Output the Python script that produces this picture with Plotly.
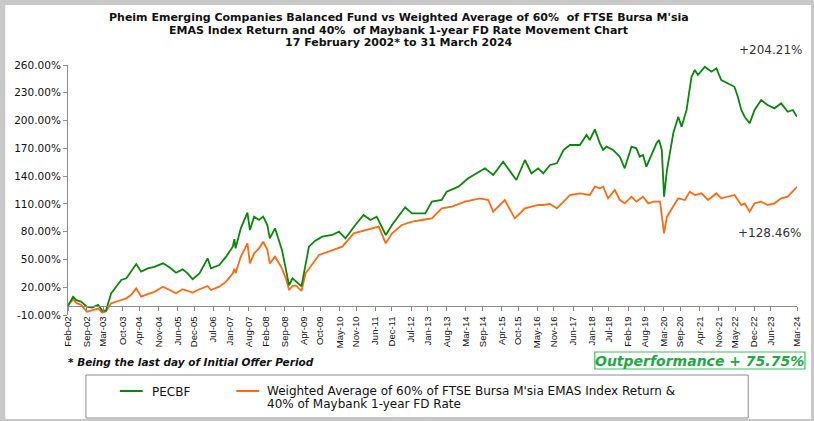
import plotly.graph_objects as go

# ---------------- data ----------------
pecbf_dates = [
    "2002-02-17", "2002-04-14", "2002-05-20", "2002-07-10", "2002-09-15", "2002-11-10",
    "2003-01-17", "2003-03-05", "2003-04-15", "2003-06-10", "2003-08-01", "2003-09-30",
    "2003-11-26", "2004-01-20", "2004-03-14", "2004-05-08", "2004-07-20", "2004-10-01",
    "2005-01-05", "2005-03-17", "2005-05-29", "2005-08-10", "2005-10-05", "2005-11-29",
    "2006-02-13", "2006-05-14", "2006-06-20", "2006-09-20", "2006-12-05", "2007-02-17",
    "2007-03-07", "2007-03-20", "2007-05-17", "2007-07-29", "2007-08-26", "2007-10-11",
    "2007-12-05", "2008-01-20", "2008-03-06", "2008-04-02", "2008-05-30", "2008-08-15",
    "2008-09-27", "2008-11-02", "2008-12-09", "2009-01-17", "2009-03-19", "2009-06-10",
    "2009-08-15", "2009-11-04", "2010-02-22", "2010-05-08", "2010-07-20", "2010-11-06",
    "2011-02-05", "2011-04-22", "2011-07-01", "2011-10-09", "2011-12-17", "2012-05-11",
    "2012-07-26", "2012-12-20", "2013-03-03", "2013-06-20", "2013-08-14", "2013-12-23",
    "2014-04-10", "2014-10-13", "2015-01-12", "2015-05-02", "2015-09-25", "2015-12-29",
    "2016-03-11", "2016-05-24", "2016-07-20", "2016-10-02", "2016-12-17", "2017-03-01",
    "2017-05-11", "2017-08-29", "2017-11-11", "2017-12-17", "2018-02-11", "2018-04-08",
    "2018-05-14", "2018-06-20", "2018-09-02", "2018-11-14", "2019-01-08", "2019-03-24",
    "2019-05-17", "2019-06-23", "2019-07-30", "2019-09-05", "2019-11-02", "2019-12-26",
    "2020-01-23", "2020-02-23", "2020-03-19", "2020-04-20", "2020-06-29", "2020-08-23",
    "2020-09-29", "2020-11-23", "2021-01-17", "2021-02-23", "2021-03-29", "2021-06-14",
    "2021-08-26", "2021-10-20", "2021-12-13", "2022-02-26", "2022-05-08", "2022-06-14",
    "2022-07-23", "2022-08-29", "2022-10-23", "2022-12-17", "2023-02-28", "2023-05-10",
    "2023-07-26", "2023-10-07", "2023-12-20", "2024-02-14", "2024-03-31",
]
pecbf_values = [
    0, 9.8, 6, 4.4, -1, -2,
    1, -5.4, -5, 13.4, 20, 27.8,
    29.6, 37, 45, 36.8, 40.4, 42,
    45.8, 41.5, 35.7, 39.3, 35, 28.6,
    35, 51.2, 40.4, 44, 53, 63.8,
    72, 62, 83.6, 100.5, 81.8, 96.2,
    92.6, 96.2, 87.2, 72.8, 83.6, 60.2,
    38.6, 22, 29.6, 26, 21, 63.8,
    70, 74.6, 76.4, 80, 72.8, 87.2,
    98, 92.6, 96.2, 76.4, 87.2, 106.3,
    99.8, 99.8, 112.4, 114.2, 123.2, 128.6,
    137.6, 148.4, 141.2, 155.6, 135.8, 157.4,
    143, 148.4, 143, 152, 153.8, 168.2,
    173.6, 173.6, 184.4, 179, 190.5, 175.4,
    168.2, 171.8, 168.2, 161, 148.4, 171.8,
    170, 161, 162.8, 150.2, 162.8, 175.4,
    179, 168.2, 117.8, 146.6, 186.2, 204.1,
    193.4, 211.4, 247.3, 254.6, 249.2, 258.1,
    252.7, 256.4, 243.8, 240.2, 236.5, 225.7,
    211.4, 204.1, 197, 211.4, 222.2, 216.8,
    213.2, 218.6, 209.5, 211.4, 204.21,
]

bench_dates = [
    "2002-02-17", "2002-04-14", "2002-05-20", "2002-07-10", "2002-09-15", "2002-11-10",
    "2003-01-17", "2003-03-05", "2003-04-15", "2003-06-10", "2003-08-01", "2003-09-30",
    "2003-11-26", "2004-01-20", "2004-03-14", "2004-05-08", "2004-07-20", "2004-10-01",
    "2005-01-05", "2005-03-17", "2005-05-29", "2005-08-10", "2005-10-05", "2005-11-29",
    "2006-02-13", "2006-05-14", "2006-06-20", "2006-09-20", "2006-12-05", "2007-02-17",
    "2007-03-07", "2007-03-20", "2007-05-17", "2007-07-29", "2007-08-26", "2007-10-11",
    "2007-12-05", "2008-01-20", "2008-03-06", "2008-04-02", "2008-05-30", "2008-08-15",
    "2008-09-27", "2008-11-02", "2008-12-09", "2009-01-17", "2009-03-19", "2009-05-04",
    "2009-09-29", "2010-02-22", "2010-06-14", "2010-10-19", "2011-02-24", "2011-07-23",
    "2011-10-09", "2011-12-17", "2012-04-05", "2012-07-26", "2012-11-14", "2013-03-03",
    "2013-06-20", "2013-10-11", "2014-03-06", "2014-08-19", "2014-11-18", "2015-01-12",
    "2015-05-20", "2015-09-08", "2015-12-29", "2016-05-24", "2016-07-20", "2016-10-02",
    "2016-12-17", "2017-03-01", "2017-05-11", "2017-08-29", "2017-12-17", "2018-02-11",
    "2018-04-08", "2018-05-14", "2018-07-08", "2018-09-20", "2018-11-14", "2019-01-08",
    "2019-03-24", "2019-05-17", "2019-07-30", "2019-09-26", "2019-11-20", "2020-02-03",
    "2020-03-19", "2020-04-20", "2020-06-29", "2020-08-23", "2020-11-05", "2020-12-29",
    "2021-02-23", "2021-05-08", "2021-07-20", "2021-10-20", "2021-12-13", "2022-02-26",
    "2022-05-08", "2022-07-23", "2022-08-29", "2022-10-23", "2022-12-17", "2023-02-28",
    "2023-05-10", "2023-07-26", "2023-10-07", "2023-12-20", "2024-02-14", "2024-03-31",
]
bench_values = [
    0, 7, 3, 1, -6.4, -5,
    -3, -7.5, -6, 2.6, 4, 6.2,
    8, 12, 18.8, 9.8, 12.6, 15,
    20.6, 17, 13.4, 17.8, 16.3, 14.2,
    17.8, 21.3, 17, 20.6, 26, 35,
    40, 35, 53, 67.4, 45.8, 56.6,
    62, 69.2, 60.2, 45.8, 53, 40.4,
    29.6, 17, 21.3, 22, 16, 35,
    54.8, 60.2, 63.8, 78.2, 81.8, 85.4,
    67.4, 78.2, 87.2, 90.8, 92.6, 94.4,
    105.2, 107, 112.4, 116, 114.2, 101.6,
    114.2, 94.4, 105.2, 108.8, 108.8, 109.9,
    105.2, 112.4, 119.6, 121.4, 119.6, 128.6,
    126.8, 128.6, 116, 125, 114.2, 110.6,
    117.8, 112.4, 117.8, 110.6, 112.4, 112.4,
    78.2, 96.2, 107, 116, 114.2, 123.2,
    119.6, 121.4, 114.2, 121.4, 116, 117.8,
    119.6, 108.8, 110.6, 101.6, 110.6, 112.4,
    108.8, 110.6, 116, 117.8, 123.2, 128.46,
]

tick_labels = [
    "Feb-02", "Sep-02", "Mar-03", "Oct-03", "Apr-04", "Nov-04", "Jun-05", "Dec-05",
    "Jul-06", "Jan-07", "Aug-07", "Feb-08", "Sep-08", "Apr-09", "Oct-09", "May-10",
    "Nov-10", "Jun-11", "Dec-11", "Jul-12", "Jan-13", "Aug-13", "Mar-14", "Sep-14",
    "Apr-15", "Oct-15", "May-16", "Nov-16", "Jun-17", "Jan-18", "Jul-18", "Feb-19",
    "Aug-19", "Mar-20", "Sep-20", "Apr-21", "Nov-21", "May-22", "Dec-22", "Jun-23",
    "Mar-24",
]
tick_dates = [
    "2002-02-17", "2002-09-15", "2003-03-15", "2003-10-15", "2004-04-15", "2004-11-15",
    "2005-06-15", "2005-12-15", "2006-07-15", "2007-01-15", "2007-08-15", "2008-02-15",
    "2008-09-15", "2009-04-15", "2009-10-15", "2010-05-15", "2010-11-15", "2011-06-15",
    "2011-12-15", "2012-07-15", "2013-01-15", "2013-08-15", "2014-03-15", "2014-09-15",
    "2015-04-15", "2015-10-15", "2016-05-15", "2016-11-15", "2017-06-15", "2018-01-15",
    "2018-07-15", "2019-02-15", "2019-08-15", "2020-03-15", "2020-09-15", "2021-04-15",
    "2021-11-15", "2022-05-15", "2022-12-15", "2023-06-15", "2024-03-31",
]
y_ticks = [-10, 20, 50, 80, 110, 140, 170, 200, 230, 260]
y_tick_text = [f"{v:.2f}%" for v in y_ticks]

pecbf_name = "PECBF"
bench_name = ("Weighted Average of 60% of FTSE Bursa M'sia EMAS Index Return & "
              "40% of Maybank 1-year FD Rate")
title_lines = [
    "Pheim Emerging Companies Balanced Fund vs Weighted Average of 60%  of FTSE Bursa M'sia",
    "EMAS Index Return and 40%  of Maybank 1-year FD Rate Movement Chart",
    "17 February 2002* to 31 March 2024",
]
pecbf_end_label = "+204.21%"
bench_end_label = "+128.46%"
footnote = "* Being the last day of Initial Offer Period"
outperf_label = "Outperformance + 75.75%"

# ---------------- figure ----------------
W, H = 814, 421
L, R, T, B = 68, 14, 65, 106
PW, PH = W - L - R, H - T - B


def px(xp):
    return (xp - L) / PW


def py(yp):
    return (H - B - yp) / PH


FONT = "DejaVu Sans"
GREEN = "#0a870a"
ORANGE = "#ff6a10"
AXIS = "#8c8c8c"

fig = go.Figure()
fig.add_trace(go.Scatter(x=bench_dates, y=bench_values, mode="lines", name=bench_name,
                         line=dict(color=ORANGE, width=1.8), showlegend=False))
fig.add_trace(go.Scatter(x=pecbf_dates, y=pecbf_values, mode="lines", name=pecbf_name,
                         line=dict(color=GREEN, width=1.8), showlegend=False))

ymin, ymax = -10, 260
fig.update_layout(
    width=W, height=H,
    margin=dict(l=L, r=R, t=T, b=B, pad=0),
    paper_bgcolor="#c8c8c8",
    plot_bgcolor="white",
    font=dict(family=FONT, color="#111"),
    xaxis=dict(
        type="date", range=["2002-02-17", "2024-03-31"],
        anchor="free", position=(0 - ymin) / (ymax - ymin),
        showline=True, linecolor=AXIS, linewidth=1,
        ticks="outside", ticklen=4, tickcolor=AXIS,
        tickvals=tick_dates, ticktext=tick_labels, tickangle=-90,
        tickfont=dict(size=9.5, family="Liberation Sans Narrow, Liberation Sans", color="#111"),
        ticklabelstandoff=2,
        showgrid=False, zeroline=False, fixedrange=True,
    ),
    yaxis=dict(
        range=[ymin, ymax], tickvals=y_ticks, ticktext=y_tick_text,
        showline=True, linecolor=AXIS, linewidth=1,
        ticks="outside", ticklen=4, tickcolor=AXIS,
        tickfont=dict(size=10.5, family=FONT, color="#111"),
        showgrid=False, zeroline=False, fixedrange=True,
    ),
)

shapes = [
    # white chart area inside grey frame
    dict(type="rect", xref="paper", yref="paper", x0=px(5), x1=px(W), y0=py(419), y1=py(5),
         fillcolor="white", line=dict(width=0), layer="below"),
    # legend box
    dict(type="rect", xref="paper", yref="paper", x0=px(86), x1=px(751), y0=py(418), y1=py(375),
         fillcolor="rgba(0,0,0,0)", line=dict(color="#8a8a8a", width=1)),
    # legend samples
    dict(type="line", xref="paper", yref="paper", x0=px(120), x1=px(143), y0=py(391), y1=py(391),
         line=dict(color=GREEN, width=2)),
    dict(type="line", xref="paper", yref="paper", x0=px(237), x1=px(260), y0=py(391), y1=py(391),
         line=dict(color=ORANGE, width=2)),
    # outperformance box
    dict(type="rect", xref="paper", yref="paper", x0=px(597), x1=px(808), y0=py(369), y1=py(352),
         fillcolor="white", line=dict(color="#3cbf5c", width=1.2)),
]
fig.update_layout(shapes=shapes)

ann = []
for text, yp in zip(title_lines, [17, 30, 43]):
    ann.append(dict(text=text, x=px(400), y=py(yp), xref="paper", yref="paper",
                    xanchor="center", yanchor="middle", showarrow=False,
                    font=dict(family=FONT, size=11, color="#111", weight="bold")))
ann.append(dict(text=pecbf_end_label, x=px(773), y=py(50), xref="paper", yref="paper",
                xanchor="center", yanchor="middle", showarrow=False,
                font=dict(family=FONT, size=12, color="#333")))
ann.append(dict(text=bench_end_label, x=px(772), y=py(233), xref="paper", yref="paper",
                xanchor="center", yanchor="middle", showarrow=False,
                font=dict(family=FONT, size=12, color="#333")))
ann.append(dict(text=footnote, x=px(66), y=py(362), xref="paper", yref="paper",
                xanchor="left", yanchor="middle", showarrow=False,
                font=dict(family=FONT, size=10.5, color="#111", weight="bold", style="italic")))
ann.append(dict(text=outperf_label, x=px(702.5), y=py(360.5), xref="paper", yref="paper",
                xanchor="center", yanchor="middle", showarrow=False,
                font=dict(family=FONT, size=14, color="#22a845", weight="bold", style="italic")))
# legend texts
ann.append(dict(text=pecbf_name, x=px(150), y=py(391.5), xref="paper", yref="paper",
                xanchor="left", yanchor="middle", showarrow=False,
                font=dict(family=FONT, size=12, color="#111")))
bench_line1, bench_line2 = bench_name.split("& ")
ann.append(dict(text=bench_line1 + "&", x=px(266), y=py(391), xref="paper", yref="paper",
                xanchor="left", yanchor="middle", showarrow=False,
                font=dict(family=FONT, size=12, color="#111")))
ann.append(dict(text=bench_line2, x=px(266), y=py(404), xref="paper", yref="paper",
                xanchor="left", yanchor="middle", showarrow=False,
                font=dict(family=FONT, size=12, color="#111")))
fig.update_layout(annotations=ann)

fig.write_html("out.html", config={"displayModeBar": False, "staticPlot": True},
               post_script="document.body.style.margin='0';")
